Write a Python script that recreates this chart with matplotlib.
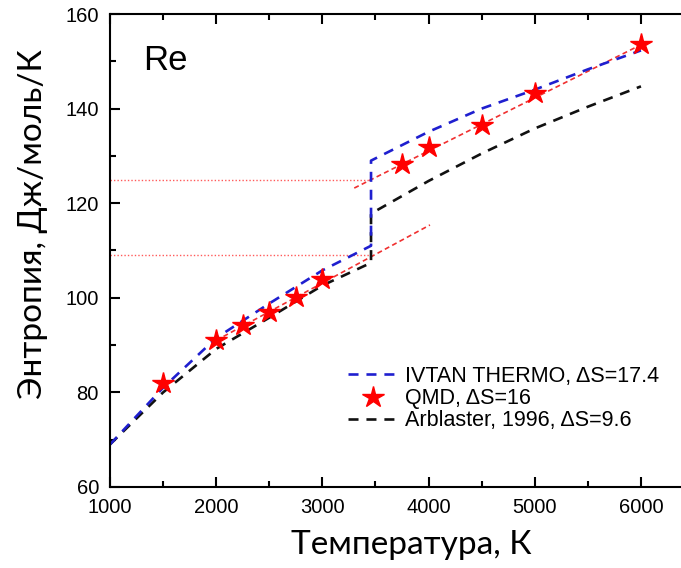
import numpy as np
import matplotlib.pyplot as plt
from matplotlib.ticker import MultipleLocator

# ---- Data ----
T_ivtan = [1000, 1500, 2000, 2500, 3000, 3458, 3458, 4000, 4500, 5000, 5500, 6000]
S_ivtan = [69.0, 81.0, 91.5, 98.8, 105.8, 111.0, 129.0, 135.1, 140.0, 144.0, 148.3, 152.3]

T_arb = [1000, 1500, 2000, 2500, 3000, 3458, 3458, 4000, 4500, 5000, 5500, 6000]
S_arb = [69.0, 80.0, 89.2, 95.8, 102.6, 107.4, 117.8, 124.7, 130.5, 135.8, 140.4, 144.7]

T_qmd = [1500, 2000, 2250, 2500, 2750, 3000, 3750, 4000, 4500, 5000, 6000]
S_qmd = [82.0, 91.1, 94.2, 97.1, 100.2, 103.9, 128.2, 131.8, 136.6, 143.4, 153.7]

# linear fits to QMD (solid / liquid branches)
T_fit_s = [2000, 4013]
S_fit_s = [91.0, 115.4]
T_fit_l = [3300, 6000]
S_fit_l = [123.2, 153.5]

T_melt = 3458
S_lines = [109.0, 125.0]

labels = ["IVTAN THERMO, \u0394S=17.4", "QMD, \u0394S=16", "Arblaster, 1996, \u0394S=9.6"]

plt.rcParams['font.family'] = ['Liberation Sans', 'DejaVu Sans']

fig = plt.figure(figsize=(6.81, 5.68), dpi=100)
ax = fig.add_axes([110 / 681, 81 / 568, 571 / 681, 473 / 568])

# horizontal guides at the melting jump
for s in S_lines:
    ax.plot([1000, T_melt], [s, s], ls=(0, (1, 1.5)), color="#ff5a5a", lw=1.0)

ax.plot(T_fit_s, S_fit_s, ls=(0, (3, 2)), color="#f03030", lw=1.2)
ax.plot(T_fit_l, S_fit_l, ls=(0, (3, 2)), color="#f03030", lw=1.2)

l_arb, = ax.plot(T_arb, S_arb, ls=(0, (3.8, 3)), color="#111111", lw=1.9)
l_iv, = ax.plot(T_ivtan, S_ivtan, ls=(0, (3.8, 3)), color="#1f1fcf", lw=1.9)
l_q, = ax.plot(T_qmd, S_qmd, ls="none", marker="*", ms=16, color="red",
               markeredgecolor="red")

ax.legend([l_iv, l_q, l_arb], labels, frameon=False, fontsize=15.5,
          loc="upper left", bbox_to_anchor=((347 - 110) / 571 + 0.002, (487 - 366) / 473),
          handlelength=2.3, handletextpad=0.35, labelspacing=0.05, borderaxespad=0,
          borderpad=0)

ax.text(1311, 148.2, "Re", fontsize=25, va="baseline")

ax.set_xlim(1000, 6377)
ax.set_ylim(60, 160)
ax.xaxis.set_major_locator(MultipleLocator(1000))
ax.xaxis.set_minor_locator(MultipleLocator(500))
ax.yaxis.set_major_locator(MultipleLocator(20))
ax.yaxis.set_minor_locator(MultipleLocator(10))
ax.tick_params(which="both", direction="in", top=True, right=False, width=1.5,
               labelsize=14.5, pad=8)
ax.tick_params(which="major", length=7)
ax.tick_params(which="minor", length=4)
ax.spines["right"].set_visible(False)
for sp in ["left", "top", "bottom"]:
    ax.spines[sp].set_linewidth(1.5)

lab_font = ['Lato', 'Open Sans', 'DejaVu Sans']
fig.text(411 / 681, 1 - 545 / 568, "Температура, К", fontsize=24, family=lab_font,
         ha="center", va="center")
fig.text(33 / 681, 1 - 224 / 568, "Энтропия, Дж/моль/К", fontsize=24, family=lab_font,
         ha="center", va="center", rotation=90)

plt.savefig("out.png", dpi=100)
